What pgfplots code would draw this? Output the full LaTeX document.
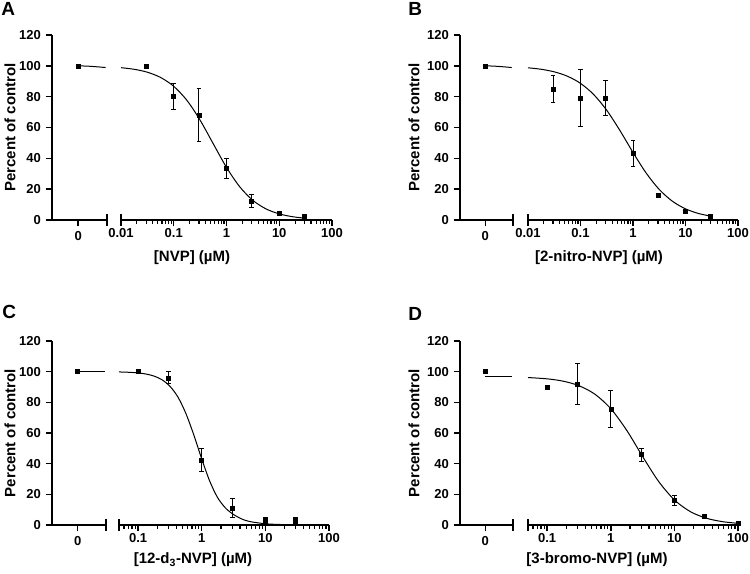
\documentclass[border=0pt]{standalone}
\usepackage{fontspec}
\setmainfont{Liberation Sans}
\usepackage{pgfplots}
\pgfplotsset{compat=1.18}

% 1 px of the reference = 0.75pt
\pgfplotsset{
  mybase/.style={scale only axis, clip=false, ymin=0, ymax=120,
    axis line style={line width=1.4pt, -},
    tick style={line width=1.1pt, black},
    tick align=outside, major tick length=4.8pt,
    ticklabel style={font=\fontsize{9.75}{11}\selectfont\bfseries},
    /pgf/number format/assume math mode=true,
    anchor=south west},
  seg0/.style={mybase, axis x line*=bottom, axis y line*=left,
    xtick pos=left, ytick pos=left,
    xmin=-1, xmax=1.1, xtick={0}, xticklabels={0}, ytick={0,20,...,120},
    extra x ticks={1.1}, extra x tick labels={},
    extra x tick style={tick align=center, major tick length=8.5pt}},
  % every log tick is a major tick (short); decades get a longer extra tick
  seglog/.style={mybase, axis x line*=bottom, axis y line=none,
    xtick pos=left, ytick=\empty, xmax=100,
    major tick length=3pt, xtick style={line width=0.9pt},
    extra x tick labels={},
    extra x tick style={major tick length=4.8pt, xtick style={line width=1.1pt}}},
  ptsc/.style={only marks, mark=square*, mark size=1.5pt, black,
    error bars/.cd, y dir=both, y explicit,
    error bar style={line width=0.75pt, black},
    error mark options={rotate=90, mark size=1.8pt, line width=0.75pt, black}},
  fitc/.style={smooth, no markers, black, line width=0.75pt},
}
\tikzset{
  labc/.style={font=\fontsize{11.25}{13}\selectfont\bfseries},
  letc/.style={anchor=north west, inner sep=0pt, font=\fontsize{14.25}{16}\selectfont\bfseries},
  brk/.style={line width=1.1pt},
}

\begin{document}
\begin{tikzpicture}
\useasboundingbox (0,0) rectangle (562.5pt,-430.5pt);

%% ---------------- A ----------------
\begin{axis}[seg0, width=41.25pt, height=138.75pt, at={(39pt,-165pt)}]
\addplot[fitc] coordinates {(0,100) (0.35,99.8) (0.7,99.4) (1.05,98.9)};
\addplot[ptsc] coordinates {(0,100) +- (0,0)};
\end{axis}
\begin{axis}[xmode=log, seglog, width=158.25pt, height=138.75pt, at={(90.75pt,-165pt)},
  xmin=0.01,
  xtick={0.01,0.02,0.03,0.04,0.05,0.06,0.07,0.08,0.09,0.1,0.2,0.3,0.4,0.5,0.6,0.7,0.8,0.9,1,2,3,4,5,6,7,8,9,10,20,30,40,50,60,70,80,90,100},
  xticklabels={0.01,,,,,,,,,0.1,,,,,,,,,1,,,,,,,,,10,,,,,,,,,100},
  extra x ticks={0.1,1,10,100}]
\draw[brk] ([yshift=4.25pt]rel axis cs:0,0) -- ([yshift=-4.25pt]rel axis cs:0,0);
\addplot[fitc] coordinates {(0.01,98.80) (0.0178,97.76) (0.0316,95.86) (0.0562,92.47)
  (0.1,86.71) (0.178,77.59) (0.316,64.77) (0.562,49.39) (1,34.13) (1.78,21.57)
  (3.16,12.74) (5.62,7.19) (10,3.95) (17.8,2.14) (30,1.21)};
\addplot[ptsc] coordinates {(0.03,100) +- (0,0) (0.1,80) +- (0,8.6) (0.3,68.1) +- (0,17.1)
  (1,33.5) +- (0,6.5) (3,12.3) +- (0,4.5) (10,4.1) +- (0,1) (30,2.2) +- (0,0.8)};
\end{axis}
\node[letc] at (0.75pt,-1.5pt) {A};
\node[labc, rotate=90] at (7.5pt,-95.6pt) {Percent of control};
\node[labc] at (144pt,-193.5pt) {[NVP] (µM)};

%% ---------------- B ----------------
\begin{axis}[seg0, width=39.75pt, height=138.75pt, at={(345pt,-165pt)}]
\addplot[fitc] coordinates {(0,100) (0.35,99.8) (0.7,99.4) (1.05,98.9)};
\addplot[ptsc] coordinates {(0,100) +- (0,0)};
\end{axis}
\begin{axis}[xmode=log, seglog, width=157.5pt, height=138.75pt, at={(396pt,-165pt)},
  xmin=0.01,
  xtick={0.01,0.02,0.03,0.04,0.05,0.06,0.07,0.08,0.09,0.1,0.2,0.3,0.4,0.5,0.6,0.7,0.8,0.9,1,2,3,4,5,6,7,8,9,10,20,30,40,50,60,70,80,90,100},
  xticklabels={0.01,,,,,,,,,0.1,,,,,,,,,1,,,,,,,,,10,,,,,,,,,100},
  extra x ticks={0.1,1,10,100}]
\draw[brk] ([yshift=4.25pt]rel axis cs:0,0) -- ([yshift=-4.25pt]rel axis cs:0,0);
\addplot[fitc] coordinates {(0.01,98.73) (0.0178,97.77) (0.0316,96.11) (0.0562,93.28)
  (0.1,88.64) (0.178,81.42) (0.316,71.17) (0.562,58.12) (1,43.82) (1.78,30.47)
  (3.16,19.80) (5.62,12.19) (10,7.24) (17.8,4.20) (30,2.53)};
\addplot[ptsc] coordinates {(0.03,85.0) +- (0,9.0) (0.1,79.1) +- (0,18.6) (0.3,79.0) +- (0,11.5)
  (1,43.0) +- (0,8.5) (3,16.0) +- (0,1.2) (10,5.5) +- (0,1.5) (30,2.2) +- (0,0.5)};
\end{axis}
\node[letc] at (306pt,-1.5pt) {B};
\node[labc, rotate=90] at (310.5pt,-95.6pt) {Percent of control};
\node[labc] at (449.25pt,-193.5pt) {[2-nitro-NVP] (µM)};

%% ---------------- C ----------------
\begin{axis}[seg0, width=40.5pt, height=138pt, at={(39pt,-393.75pt)}]
\addplot[fitc] coordinates {(0,100) (1.05,100)};
\addplot[ptsc] coordinates {(0,100) +- (0,0)};
\end{axis}
\begin{axis}[xmode=log, seglog, width=157.5pt, height=138pt, at={(89.25pt,-393.75pt)},
  xmin=0.05,
  xtick={0.06,0.07,0.08,0.09,0.1,0.2,0.3,0.4,0.5,0.6,0.7,0.8,0.9,1,2,3,4,5,6,7,8,9,10,20,30,40,50,60,70,80,90,100},
  xticklabels={,,,,0.1,,,,,,,,,1,,,,,,,,,10,,,,,,,,,100},
  extra x ticks={0.1,1,10,100}]
\draw[brk] ([yshift=4.25pt]rel axis cs:0,0) -- ([yshift=-4.25pt]rel axis cs:0,0);
\addplot[fitc] coordinates {(0.05,99.82) (0.075,99.56) (0.1,99.17) (0.1334,98.45)
  (0.178,97.12) (0.237,94.71) (0.316,90.48) (0.422,83.46) (0.562,72.81) (0.75,58.71)
  (1,43.02) (1.334,28.61) (1.778,17.80) (2.371,11.0) (3.162,6.8) (4.217,4.0)
  (5.623,2.3) (10,0.8) (17.78,0.3) (30,0.1)};
\addplot[ptsc] coordinates {(0.1,100) +- (0,0.5) (0.3,96.0) +- (0,3.8) (1,42.5) +- (0,7.7)
  (3,11.2) +- (0,6.4) (10,2.8) +- (0,2) (30,2.8) +- (0,2)};
\end{axis}
\node[letc] at (1.5pt,-228.75pt) {C};
\node[labc, rotate=90] at (7.5pt,-324.75pt) {Percent of control};
\node[labc] at (144.75pt,-420pt) {[12-d\textsubscript{3}-NVP] (µM)};

%% ---------------- D ----------------
\begin{axis}[seg0, width=39.75pt, height=138pt, at={(345pt,-393.75pt)}]
\addplot[fitc] coordinates {(0,96.8) (1.05,96.8)};
\addplot[ptsc] coordinates {(0,100) +- (0,0)};
\end{axis}
\begin{axis}[xmode=log, seglog, width=157.5pt, height=138pt, at={(396pt,-393.75pt)},
  xmin=0.05,
  xtick={0.06,0.07,0.08,0.09,0.1,0.2,0.3,0.4,0.5,0.6,0.7,0.8,0.9,1,2,3,4,5,6,7,8,9,10,20,30,40,50,60,70,80,90,100},
  xticklabels={,,,,0.1,,,,,,,,,1,,,,,,,,,10,,,,,,,,,100},
  extra x ticks={0.1,1,10,100}]
\draw[brk] ([yshift=4.25pt]rel axis cs:0,0) -- ([yshift=-4.25pt]rel axis cs:0,0);
\addplot[fitc] coordinates {(0.05,96.17) (0.1,95.32) (0.178,93.81) (0.316,90.85)
  (0.562,85.32) (1,75.86) (1.78,61.78) (3.16,44.73) (5.62,28.55) (10,16.38)
  (17.8,8.73) (31.6,4.46) (56.2,2.22) (100,1.09)};
\addplot[ptsc] coordinates {(0.1,89.6) +- (0,1.2) (0.3,92.0) +- (0,13.4) (1,75.6) +- (0,11.8)
  (3,45.9) +- (0,4.3) (10,16.1) +- (0,3.3) (30,5.8) +- (0,0.6) (100,1.1) +- (0,0.5)};
\end{axis}
\node[letc] at (306pt,-230.25pt) {D};
\node[labc, rotate=90] at (310.5pt,-324.75pt) {Percent of control};
\node[labc] at (447.75pt,-420pt) {[3-bromo-NVP] (µM)};
\end{tikzpicture}
\end{document}
